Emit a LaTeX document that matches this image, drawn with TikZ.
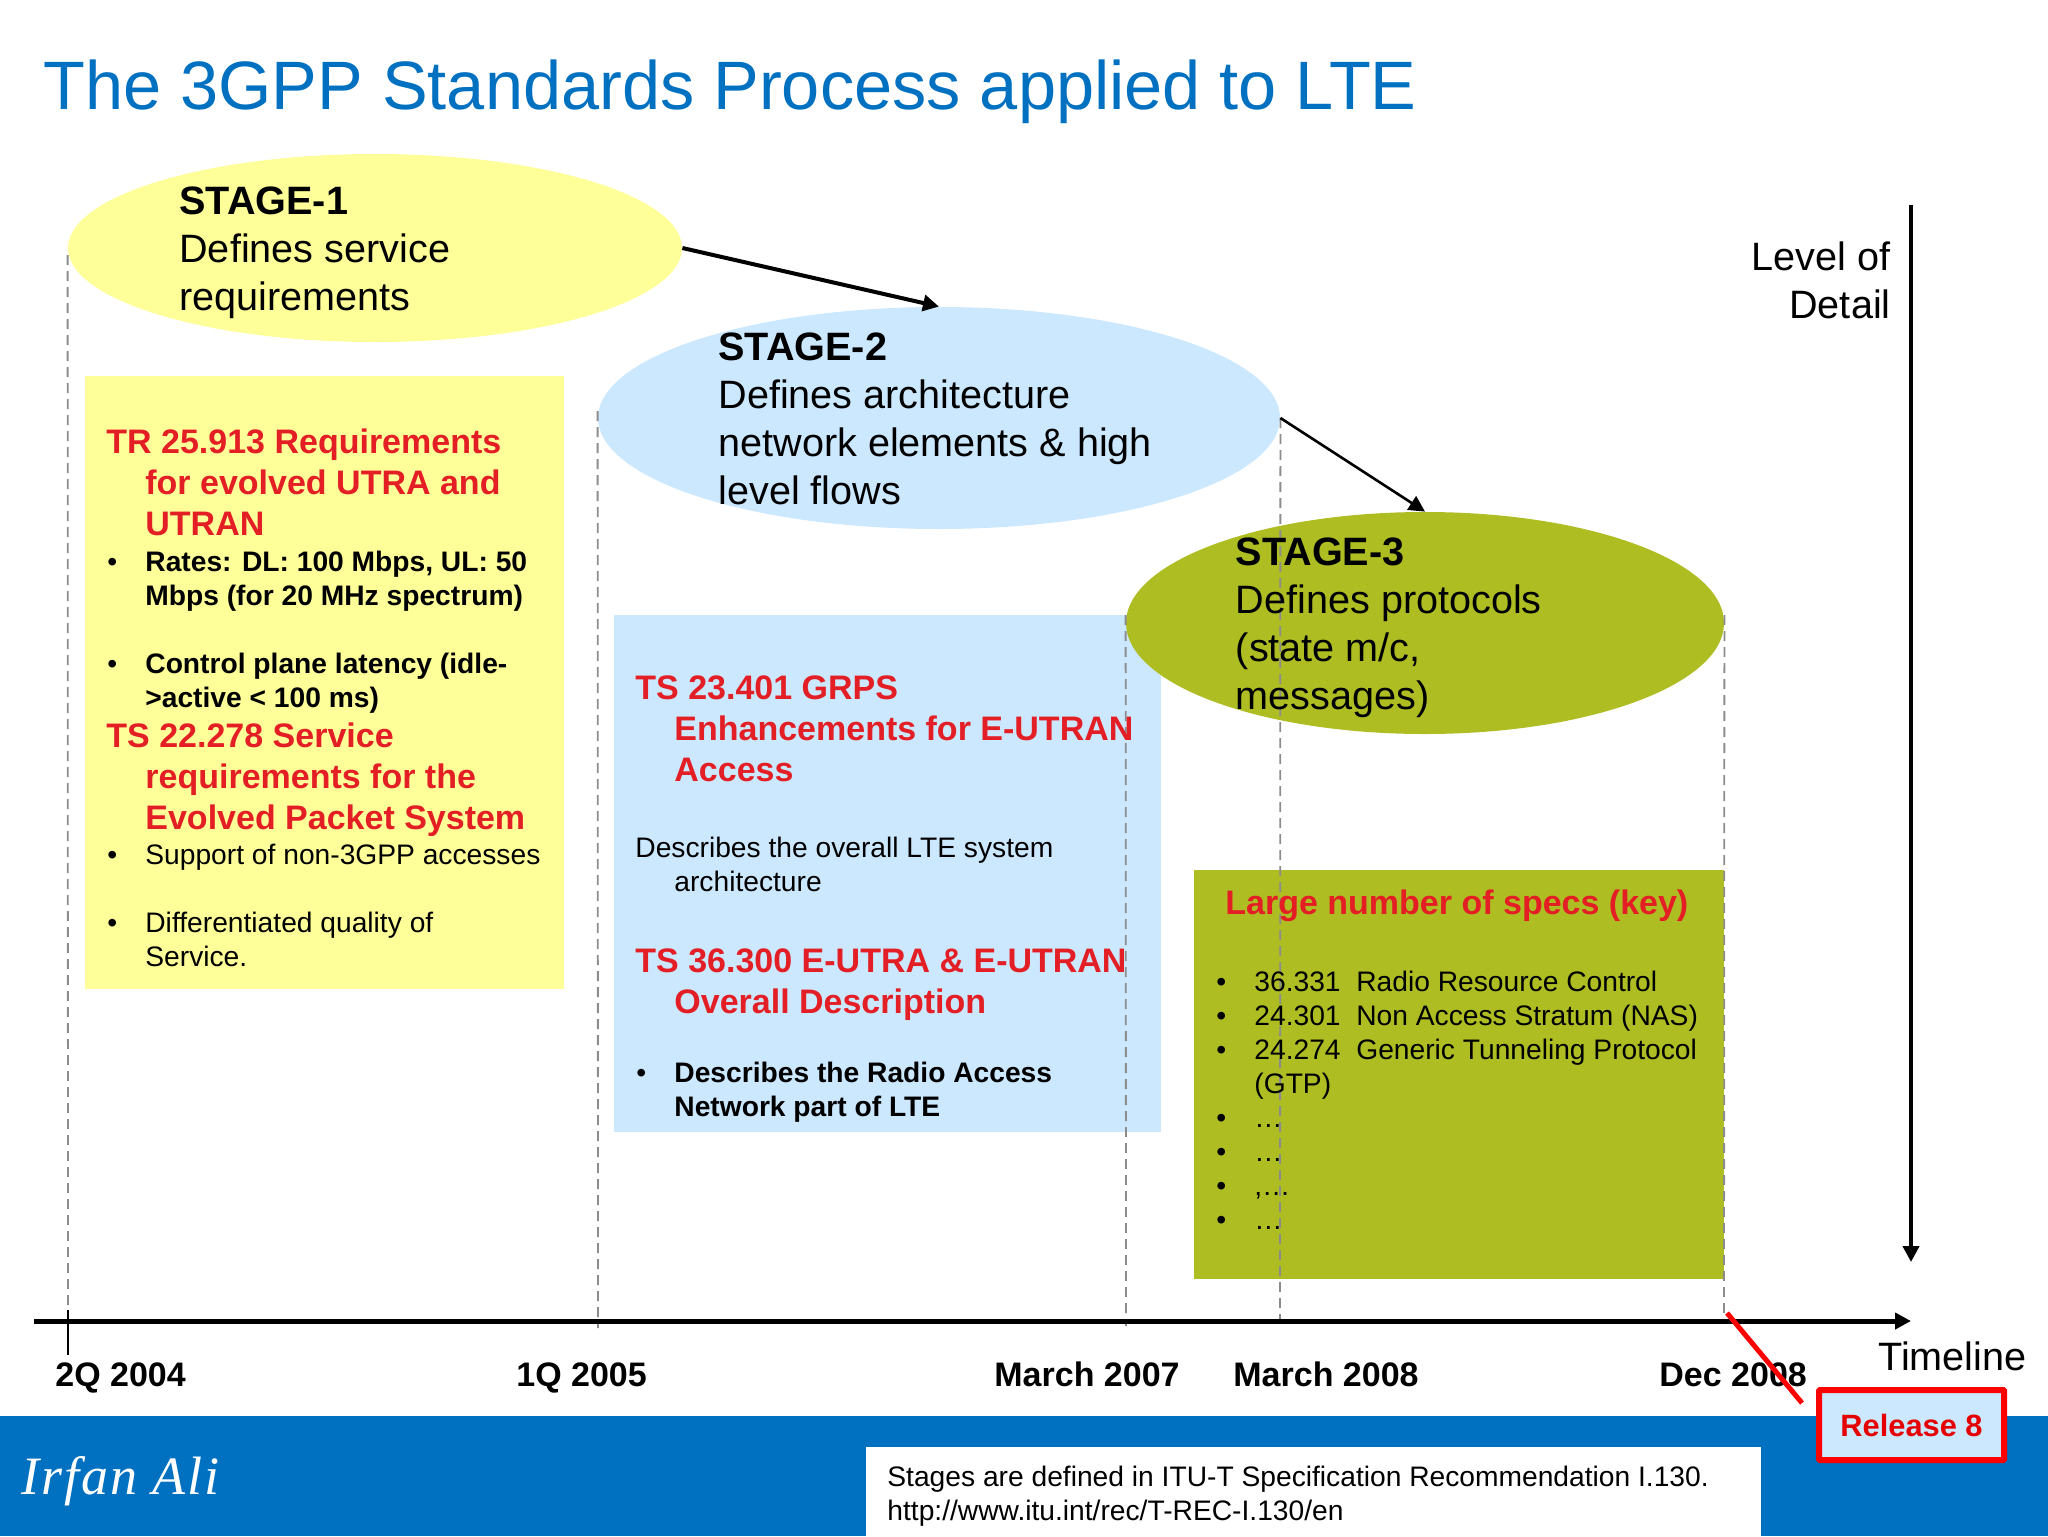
\documentclass[tikz,border=0pt]{standalone}
\usepackage{fontspec}
\setmainfont{Liberation Sans}
\newfontfamily\signfont[LetterSpace=3.6]{Liberation Serif}
\usetikzlibrary{shapes.geometric,arrows.meta}
\definecolor{titleblue}{RGB}{0,112,192}
\definecolor{paleyellow}{RGB}{255,255,153}
\definecolor{paleblue}{RGB}{204,232,255}
\definecolor{olive}{RGB}{174,189,34}
\definecolor{headred}{RGB}{227,30,36}
\newcommand\firstline{\rule{0pt}{1em}}
\newcommand\ind{\hspace*{19.5pt}}
\newcommand\dotitem{\makebox[19.5pt][l]{\hspace*{0.5pt}\normalfont\textbullet}}
\tikzset{
  stagebubble/.style={ellipse,inner sep=0pt},
  panel/.style={anchor=north west,inner sep=0pt},
  stagetext/.style={anchor=north west,inner sep=0pt,align=left,font=\fontsize{19.8}{24}\selectfont},
  headtext/.style={anchor=north west,inner sep=0pt,align=left,text=headred,font=\fontsize{17}{20.4}\selectfont\bfseries},
  bodytext/.style={anchor=north west,inner sep=0pt,align=left,font=\fontsize{14.1}{17}\selectfont},
  datetext/.style={anchor=north west,inner sep=0pt,font=\fontsize{17}{20}\selectfont\bfseries},
  guide/.style={black!45,line width=0.9pt,dash pattern=on 5pt off 3pt},
  flow/.style={-{Triangle[length=8pt,width=8pt]}},
}
\begin{document}
\begin{tikzpicture}[x=0.5pt,y=-0.5pt]
\useasboundingbox (0,0) rectangle (2048,1536);
% footer
\fill[titleblue] (0,1416) rectangle (2048,1536);
\node[anchor=north west,inner sep=0pt,text=titleblue,font=\fontsize{34.25}{40}\selectfont] (title) at (43,40.5) {\firstline The 3GPP Standards Process applied to LTE};
% panels and bubbles
\node[panel,fill=paleyellow,minimum width=239.5pt,minimum height=306.5pt] (reqbox) at (85,376) {};
\node[panel,fill=paleblue,minimum width=273.5pt,minimum height=258.5pt] (archbox) at (614,615) {};
\node[panel,fill=olive,minimum width=265pt,minimum height=204.5pt] (specbox) at (1194,870) {};
\node[stagebubble,fill=paleyellow,minimum width=307pt,minimum height=94pt] (stageone) at (375,248) {};
\node[stagebubble,fill=paleblue,minimum width=341pt,minimum height=111pt] (stagetwo) at (939,418) {};
\node[stagebubble,fill=olive,minimum width=299pt,minimum height=111pt] (stagethree) at (1425,623) {};
% timeline
\coordinate (axisstart) at (34,1321);
\coordinate (axisend) at (1911,1321);
\coordinate (detailtop) at (1911,205);
\coordinate (detailend) at (1911,1262);
\coordinate (ticktop) at (68,1310);
\coordinate (tickend) at (68,1355);
\draw[guide] ([yshift=-3.5pt]stageone.west) -- (ticktop);
\draw[guide] ([yshift=3.5pt]stagetwo.west) -- (598,1328);
\draw[guide] (stagethree.west |- archbox.north) -- (1126,1326);
\draw[guide] (stagetwo.east) -- (1280,1323);
\draw[guide] (stagethree.east |- archbox.north) -- (1724,1323);
\draw[line width=1pt] (ticktop) -- (tickend);
\draw[flow,line width=2.5pt] (axisstart) -- (axisend);
\draw[flow,line width=2.2pt] (detailtop) -- (detailend);
\draw[flow,line width=2pt] (stageone.east) -- (stagetwo.north);
\draw[flow,line width=1.3pt] (stagetwo.east) -- (stagethree.north);
% stage labels
\node[stagetext] (stageonetxt) at (179,174) {\firstline\textbf{STAGE-1}\\Defines service\\requirements};
\node[stagetext] (stagetwotxt) at (718,320) {\firstline\textbf{STAGE-2}\\Defines architecture\\network elements \& high\\level flows};
\node[stagetext] (stagethreetxt) at (1235.5,525.5) {\firstline\textbf{STAGE-3}\\Defines protocols\\(state m/c,\\messages)};
% yellow panel
\node[headtext] (trhead) at (106,419) {\firstline TR 25.913 Requirements\\\ind for evolved UTRA and\\\ind UTRAN};
\node[bodytext,font=\fontsize{14.1}{17}\selectfont\bfseries] (trbody) at (106,543) {\firstline\dotitem Rates: DL: 100 Mbps, UL: 50\\\ind Mbps (for 20 MHz spectrum)\\[17pt]\dotitem Control plane latency (idle-\\\ind >active < 100 ms)};
\node[headtext] (tshead) at (106,713) {\firstline TS 22.278 Service\\\ind requirements for the\\\ind Evolved Packet System};
\node[bodytext] (tsbody) at (106,836) {\firstline\dotitem Support of non-3GPP accesses\\[17pt]\dotitem Differentiated quality of\\\ind Service.};
% blue panel
\node[headtext] (grpshead) at (635,665) {\firstline TS 23.401 GRPS\\\ind Enhancements for E-UTRAN\\\ind Access};
\node[bodytext] (grpsbody) at (635,829) {\firstline Describes the overall LTE system\\\ind architecture};
\node[headtext] (utrahead) at (635,938) {\firstline TS 36.300 E-UTRA \& E-UTRAN\\\ind Overall Description};
\node[bodytext,font=\fontsize{14.1}{17}\selectfont\bfseries] (utrabody) at (635,1054) {\firstline\dotitem Describes the Radio Access\\\ind Network part of LTE};
% green panel
\node[headtext] (spechead) at (1225,880) {\firstline Large number of specs (key)};
\node[bodytext] (specbody) at (1215,962.5) {\firstline\dotitem 36.331\ \ Radio Resource Control\\\dotitem 24.301\ \ Non Access Stratum (NAS)\\\dotitem 24.274\ \ Generic Tunneling Protocol\\\ind (GTP)\\\dotitem …\\\dotitem …\\\dotitem ,…\\\dotitem …};
% axis labels
\node[stagetext,anchor=north east,align=right] (detailtxt) at (1891,230) {\firstline Level of\\Detail};
\node[stagetext] (timelinetxt) at (1878,1330) {\firstline Timeline};
\node[datetext] (dateone) at (55,1352) {\firstline 2Q 2004};
\node[datetext] (datetwo) at (516,1352) {\firstline 1Q 2005};
\node[datetext] (datethree) at (994,1352) {\firstline March 2007};
\node[datetext] (datefour) at (1233,1352) {\firstline March 2008};
\node[datetext] (datefive) at (1659,1352) {\firstline Dec 2008};
% release marker
\coordinate (markstart) at (1727,1313);
\coordinate (markend) at (1802,1403);
\draw[red,line width=2.5pt] (markstart) -- (markend);
\node[draw=red,fill=paleblue,line width=3pt,rounded corners=0.5pt,inner sep=0pt,minimum width=92.5pt,minimum height=35pt,text=red!90!black,font=\fontsize{15.4}{18}\selectfont\bfseries] (release) at (1911.5,1425) {Release 8};
% footer texts
\node[panel,fill=white,minimum width=447.5pt,minimum height=44.5pt] (notebox) at (866,1447) {};
\node[bodytext] (notetxt) at (887,1458) {\firstline Stages are defined in ITU-T Specification Recommendation I.130.\\http://www.itu.int/rec/T-REC-I.130/en};
\node[anchor=north west,inner sep=0pt,text=white,font=\signfont\itshape\fontsize{27}{30}\selectfont] (author) at (21,1440) {\firstline Irfan Ali};
\end{tikzpicture}
\end{document}
